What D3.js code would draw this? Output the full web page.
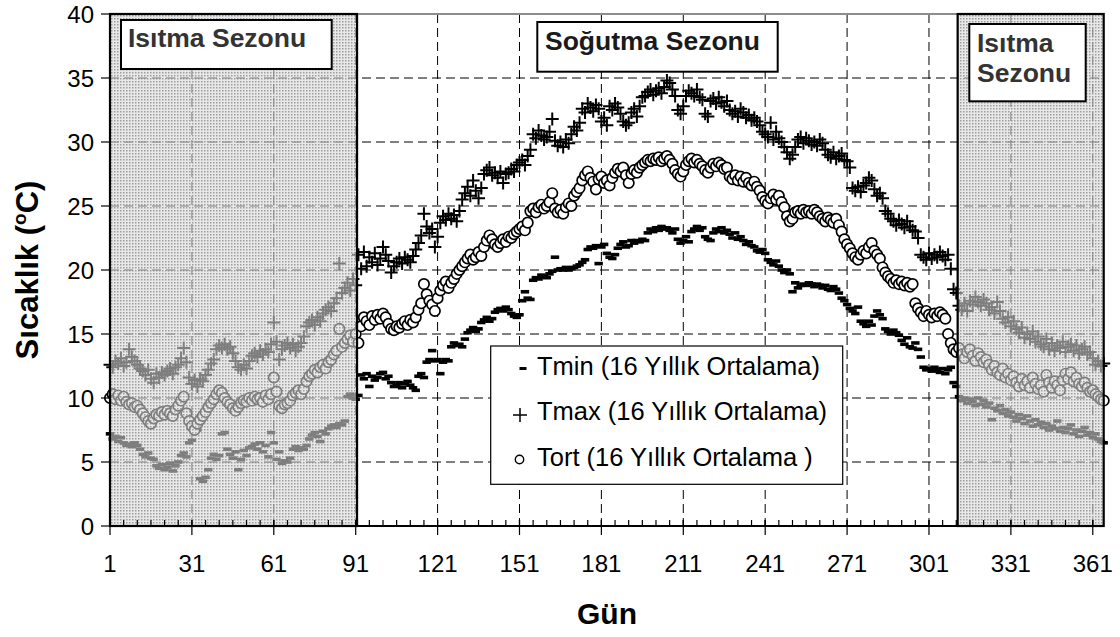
<!DOCTYPE html>
<html><head><meta charset="utf-8">
<script src="https://cdn.jsdelivr.net/npm/d3@7/dist/d3.min.js"></script>
<style>
html,body{margin:0;padding:0;background:#fff;}
svg{display:block;font-family:"Liberation Sans",Arial,sans-serif;}
</style></head>
<body>
<svg id="chart" width="1120" height="637"></svg>
<script>
// ---------------- DATA ----------------
const xTickLabels = [1, 31, 61, 91, 121, 151, 181, 211, 241, 271, 301, 331, 361];
const yTickLabels = [0, 5, 10, 15, 20, 25, 30, 35, 40];
const seasonHeat = [[1, 91.5], [311.5, 365]];
const seriesNames = ["Tmin (16 Yıllık Ortalama)", "Tmax (16 Yıllık Ortalama)", "Tort (16 Yıllık Ortalama )"];

const tmax = [
12.6,12.4,12.9,12.7,13.1,12.5,12.8,13.8,13.2,12.9,
12.6,12.3,12.1,11.8,12.2,11.5,11.2,11.9,11.6,12.0,
11.8,12.1,12.3,11.9,12.4,12.6,13.1,13.9,12.8,11.6,
11.1,11.4,10.9,11.5,11.3,11.8,12.2,12.7,13.0,13.8,
14.1,13.9,14.2,13.8,14.0,13.5,12.9,12.4,12.2,12.6,
12.3,12.9,13.3,13.5,13.2,13.7,13.4,13.8,13.6,14.2,
15.9,14.4,13.0,13.8,14.1,14.3,13.9,14.2,13.7,14.0,
14.3,14.8,15.6,15.9,16.1,15.7,16.3,16.0,16.6,16.9,
17.1,16.8,17.4,17.8,20.5,18.2,18.6,19.0,18.4,19.3,18.8,
21.2,20.1,21.4,20.3,21.0,20.6,21.3,20.4,20.9,
21.8,21.2,20.7,19.8,20.3,20.6,20.9,20.5,21.0,20.8,
20.6,21.1,21.6,22.1,22.7,24.4,23.4,22.9,23.2,21.8,
22.6,23.7,24.2,23.9,24.4,24.0,24.3,23.8,24.6,25.5,
26.0,26.5,25.8,27.0,26.2,25.6,26.4,27.5,27.8,28.0,
27.4,27.6,27.2,27.7,26.8,27.5,27.6,27.9,27.7,28.2,
28.4,28.6,28.2,28.9,29.4,30.6,30.3,30.9,30.5,30.2,
30.4,30.8,31.8,30.1,29.7,30.0,29.6,30.2,29.9,30.6,
31.2,30.9,31.5,32.6,32.3,33.0,32.7,32.4,32.9,32.6,
31.6,31.9,31.3,32.8,32.5,33.0,32.7,32.2,31.6,31.3,
31.5,32.3,32.6,32.0,32.8,33.5,33.6,33.9,34.1,33.7,
34.0,34.2,33.8,34.3,34.8,34.6,34.1,33.6,32.5,32.2,
32.8,33.6,34.0,33.8,33.6,34.1,33.5,33.3,32.2,32.0,
33.2,33.4,33.0,33.5,33.1,32.8,33.2,32.5,32.2,32.4,
32.0,32.6,32.3,31.9,32.1,31.7,31.9,31.6,31.3,30.8,
30.6,30.4,31.5,30.2,30.8,30.3,30.0,29.6,29.2,28.7,
29.0,29.6,30.2,30.4,29.9,30.3,30.1,29.8,30.0,29.7,
30.2,29.9,29.4,29.0,28.8,29.2,28.7,28.9,29.1,28.6,
28.5,28.0,26.4,26.2,26.5,26.1,26.6,26.8,27.2,27.0,
26.3,25.8,26.0,25.6,24.6,24.4,24.0,23.8,23.5,23.9,
23.6,23.3,23.8,23.4,23.1,23.0,22.5,21.2,21.0,20.8,
21.3,20.9,21.2,21.0,21.4,21.1,20.8,21.2,20.1,18.5,
18.2,17.2,16.9,17.4,16.8,17.6,17.3,17.9,17.5,17.2,
17.7,17.4,16.9,17.1,16.6,17.5,16.8,16.2,15.9,16.3,
15.6,16.0,15.4,15.1,15.5,14.7,15.0,14.6,15.2,14.4,
14.8,14.2,14.0,14.6,13.8,14.3,13.7,14.1,13.9,14.4,
13.6,14.0,14.2,13.7,14.1,13.5,13.8,14.0,13.4,13.6,
13.1,12.6,12.9,12.5,12.7
];

const tort = [
10.0,10.3,9.9,10.2,9.8,10.1,9.7,9.5,9.6,9.3,
9.4,9.1,8.8,8.5,8.2,8.0,8.4,8.7,8.6,8.9,
8.7,9.0,8.8,8.6,9.1,9.4,9.8,10.1,8.8,8.2,
7.8,7.5,8.0,8.3,8.6,8.9,9.3,9.6,9.9,10.3,
10.6,10.4,10.0,9.7,9.5,9.2,9.0,9.3,9.6,9.8,
9.7,10.0,9.8,10.1,9.9,10.0,9.7,10.2,9.9,10.3,
11.6,10.5,9.4,9.2,9.5,9.6,9.8,10.2,10.4,10.6,
10.3,10.7,11.3,11.7,11.9,12.2,12.0,12.4,12.6,12.3,
12.8,13.0,13.4,13.7,15.4,14.0,14.3,14.6,14.9,14.4,15.0,
14.3,15.6,16.3,16.0,15.7,16.4,16.1,16.5,16.2,
16.6,16.3,15.8,15.4,15.3,15.6,15.5,15.8,16.0,15.7,
16.1,15.9,16.3,16.9,17.4,18.9,18.1,17.6,17.3,16.8,
17.8,18.4,18.8,19.1,18.6,19.0,19.3,19.7,20.0,20.3,
20.6,20.9,21.2,20.8,21.0,21.4,21.1,21.8,22.3,22.7,
22.4,22.0,21.8,22.1,22.4,22.2,22.6,22.5,22.8,23.0,
23.2,23.4,23.1,23.7,24.6,24.8,24.5,24.9,25.1,24.8,
25.0,25.3,26.0,24.8,24.5,24.7,24.4,24.9,25.2,25.0,
25.8,26.1,26.4,27.0,27.4,27.7,27.2,26.9,26.3,27.1,
27.3,26.8,27.0,26.6,27.2,27.6,27.9,27.7,28.0,27.4,
26.8,27.5,27.8,27.6,28.0,28.2,28.4,28.6,28.5,28.7,
28.6,28.8,28.5,28.7,28.9,28.6,28.3,27.8,27.5,27.3,
27.7,28.2,28.5,28.7,28.4,28.6,28.3,28.1,27.8,27.6,
28.0,28.3,28.1,28.4,28.2,27.9,28.0,27.3,27.1,27.4,
27.0,27.3,26.9,27.2,26.8,26.6,26.9,26.5,26.2,25.7,
25.4,25.2,25.6,25.9,25.5,25.8,25.3,24.9,24.2,23.8,
24.0,24.5,24.6,24.4,24.7,24.5,24.6,24.4,24.7,24.5,
24.2,24.0,23.8,24.1,23.9,23.7,24.0,23.5,23.0,22.4,
22.0,21.7,21.3,21.0,20.8,21.2,21.5,21.3,21.8,22.1,
21.5,21.2,20.9,20.2,19.8,19.5,19.3,19.0,19.2,18.9,
19.1,18.8,19.0,18.7,18.9,17.4,17.0,16.7,16.4,16.8,
16.5,16.3,16.6,16.4,16.7,16.5,16.2,15.0,14.3,13.8,
13.6,13.9,13.4,13.1,13.6,13.8,13.3,12.9,13.5,13.2,
12.8,13.0,12.6,12.2,12.5,12.0,11.8,12.3,11.6,11.9,
11.4,11.7,11.2,10.9,11.5,11.0,11.3,10.8,11.6,11.1,
10.7,11.0,10.5,11.8,11.2,10.8,11.3,11.0,10.6,11.4,
11.9,11.5,12.0,11.3,11.6,11.1,10.9,11.2,10.8,10.5,
10.6,10.3,10.1,9.9,9.8
];

const tmin = [
7.2,6.8,7.0,6.6,6.9,6.5,6.3,6.4,6.2,6.5,
6.3,6.0,5.6,5.4,5.7,5.3,5.2,4.7,4.5,4.8,
4.4,4.6,4.9,4.3,4.7,5.0,5.5,5.7,5.4,6.5,
6.7,7.4,7.5,3.7,3.5,3.8,4.4,5.3,5.6,5.2,
5.5,7.2,7.3,6.0,5.6,5.3,5.8,4.4,5.2,5.9,
5.5,6.1,6.2,6.4,6.0,6.5,5.8,6.3,5.4,7.3,
6.5,5.2,5.8,4.9,5.1,5.0,5.3,6.0,6.2,5.9,
6.1,6.0,6.3,6.8,7.1,7.3,7.0,6.6,7.4,7.2,
7.6,7.8,7.9,7.7,8.0,7.9,8.2,10.1,10.3,10.0,9.9,
10.2,11.8,11.5,11.9,10.9,11.7,11.4,11.6,11.9,
12.0,11.5,11.7,11.2,10.9,11.0,11.2,10.8,11.1,11.3,
11.0,10.8,10.6,11.7,11.9,11.6,12.8,13.0,13.7,12.9,
13.0,11.9,12.8,13.0,12.9,14.0,14.3,14.1,14.2,14.0,
14.6,15.1,15.3,15.5,15.2,15.4,15.9,16.1,16.3,16.0,
16.2,16.7,16.9,17.0,16.8,17.1,16.9,16.6,16.4,16.3,
16.5,17.6,18.3,17.8,17.7,19.2,19.4,19.3,19.6,19.5,
19.4,19.7,19.9,21.0,20.0,20.1,20.0,20.2,20.0,20.1,
20.2,20.3,20.4,20.6,20.8,21.6,21.8,21.7,21.9,20.5,
21.8,22.0,21.3,21.0,20.9,21.2,21.7,22.0,22.2,21.8,
21.9,22.3,22.1,22.3,22.2,22.4,22.3,22.9,23.2,23.0,
23.3,23.1,23.4,23.2,23.3,23.1,22.9,23.2,22.4,22.1,
22.3,22.6,22.2,23.0,23.2,23.4,23.1,23.3,22.6,22.4,
22.3,22.9,23.2,23.0,23.3,22.9,23.1,22.8,22.5,22.9,
22.4,22.6,22.3,22.0,22.2,21.9,21.8,21.5,21.4,21.6,
21.3,20.8,20.6,20.4,20.7,20.3,20.0,19.8,20.0,19.7,
18.3,19.0,18.6,18.8,18.9,18.8,19.0,18.9,18.7,18.9,
18.8,18.6,18.8,18.5,18.4,18.7,18.5,18.2,17.8,17.6,
17.3,17.0,16.8,16.6,17.1,16.0,15.8,15.6,16.0,15.7,
16.4,16.8,16.5,16.2,15.4,15.2,15.0,15.3,15.1,14.9,
14.5,14.2,14.7,14.0,13.9,14.3,13.8,13.2,12.4,12.2,
12.3,12.1,12.4,12.2,12.0,12.3,11.9,12.2,12.4,11.2,
10.9,10.1,9.8,10.0,9.6,9.9,9.7,9.4,10.0,9.5,
9.8,9.3,9.6,8.3,9.2,9.0,9.4,8.8,9.1,8.6,
8.9,8.5,8.2,8.7,8.4,8.0,8.6,8.2,7.8,8.3,
7.9,8.1,7.7,8.0,7.5,7.8,7.6,8.2,7.4,7.7,
7.3,7.6,7.9,7.2,7.5,7.0,7.4,7.7,7.1,7.3,
6.9,7.2,6.8,6.6,6.5
];

[tmin, tmax, tort].forEach((a, i) => {
  if (a.length !== 365) throw new Error("series " + i + " length " + a.length);
});
const days = d3.range(1, 366);

// ---------------- LAYOUT ----------------
const svg = d3.select("#chart");
const pL = 110, pR = 1103.7, pT = 14, pB = 526;
const x = d3.scaleLinear().domain([1, 365]).range([pL, pR]);
const y = d3.scaleLinear().domain([0, 40]).range([pB, pT]);

svg.append("rect").attr("width", 1120).attr("height", 637).attr("fill", "#fff");

const defs = svg.append("defs");
const pat = defs.append("pattern").attr("id", "dots")
  .attr("width", 3).attr("height", 3).attr("patternUnits", "userSpaceOnUse");
pat.append("rect").attr("width", 3).attr("height", 3).attr("fill", "#d8d8d8").attr("fill-opacity", 0.58);
pat.append("rect").attr("x", 0).attr("y", 0).attr("width", 1.5).attr("height", 1.5).attr("fill", "#858585").attr("fill-opacity", 0.75);

// grid
const gridX = xTickLabels.filter(d => d !== 1);
svg.append("g").selectAll("line").data(gridX).join("line")
  .attr("x1", d => x(d)).attr("x2", d => x(d)).attr("y1", pT).attr("y2", pB)
  .attr("stroke", "#000").attr("stroke-width", 1).attr("stroke-dasharray", "9,5");
svg.append("g").selectAll("line").data(yTickLabels.filter(d => d > 0 && d < 40)).join("line")
  .attr("x1", pL).attr("x2", pR).attr("y1", d => y(d)).attr("y2", d => y(d))
  .attr("stroke", "#000").attr("stroke-width", 1).attr("stroke-dasharray", "9,5");

// top border
svg.append("line").attr("x1", pL).attr("x2", pR).attr("y1", pT).attr("y2", pT)
  .attr("stroke", "#8c8c8c").attr("stroke-width", 2);

// data: Tmin dashes
svg.append("g").selectAll("rect").data(days).join("rect")
  .attr("x", d => x(d) - 4.2).attr("y", (d, i) => y(tmin[i]) - 1.8)
  .attr("width", 8.4).attr("height", 3.6).attr("fill", "#000");
// Tmax plus
const pl = 6.5;
svg.append("g").selectAll("path").data(days).join("path")
  .attr("d", (d, i) => {
    const cx = x(d), cy = y(tmax[i]);
    return `M${cx - pl},${cy}H${cx + pl}M${cx},${cy - pl}V${cy + pl}`;
  })
  .attr("stroke", "#000").attr("stroke-width", 2).attr("fill", "none");
// Tort circles
svg.append("g").selectAll("circle").data(days).join("circle")
  .attr("cx", d => x(d)).attr("cy", (d, i) => y(tort[i])).attr("r", 5.2)
  .attr("fill", "#fff").attr("stroke", "#000").attr("stroke-width", 1.7);

// heating season shading (on top of data)
svg.append("g").selectAll("rect").data(seasonHeat).join("rect")
  .attr("x", d => x(d[0])).attr("y", pT)
  .attr("width", d => x(d[1]) - x(d[0])).attr("height", pB - pT)
  .attr("fill", "url(#dots)").attr("stroke", "#000").attr("stroke-width", 2.2);

// axes
const xAxisG = svg.append("g");
xAxisG.append("line").attr("x1", pL).attr("x2", pR).attr("y1", pB).attr("y2", pB)
  .attr("stroke", "#000").attr("stroke-width", 2);
const minorTicks = d3.range(1, 366, 5);
xAxisG.selectAll("line.minor").data(minorTicks).join("line").attr("class", "minor")
  .attr("x1", d => x(d)).attr("x2", d => x(d)).attr("y1", pB - 6).attr("y2", pB)
  .attr("stroke", "#000").attr("stroke-width", 1.2);
xAxisG.selectAll("line.major").data(xTickLabels).join("line").attr("class", "major")
  .attr("x1", d => x(d)).attr("x2", d => x(d)).attr("y1", pB - 6).attr("y2", pB + 9)
  .attr("stroke", "#000").attr("stroke-width", 1.2);
xAxisG.selectAll("text").data(xTickLabels).join("text")
  .attr("x", d => x(d)).attr("y", 572).attr("text-anchor", "middle")
  .attr("font-size", 24).attr("fill", "#000").text(d => d);

const yAxisG = svg.append("g");
yAxisG.append("line").attr("x1", pL).attr("x2", pL).attr("y1", pT).attr("y2", pB)
  .attr("stroke", "#000").attr("stroke-width", 2);
yAxisG.selectAll("line.t").data(yTickLabels).join("line").attr("class", "t")
  .attr("x1", pL - 9).attr("x2", pL).attr("y1", d => y(d)).attr("y2", d => y(d))
  .attr("stroke", "#000").attr("stroke-width", 1.2);
yAxisG.selectAll("text").data(yTickLabels).join("text")
  .attr("x", 94).attr("y", d => y(d) + 8.5).attr("text-anchor", "end")
  .attr("font-size", 24).attr("fill", "#000").text(d => d);

// axis titles
svg.append("text").attr("x", 607).attr("y", 624).attr("text-anchor", "middle")
  .attr("font-size", 30).attr("font-weight", "bold").text("Gün");
const yt = svg.append("text").attr("transform", "translate(38,270) rotate(-90)")
  .attr("text-anchor", "middle").attr("font-size", 31).attr("font-weight", "bold");
yt.append("tspan").text("Sıcaklık (");
yt.append("tspan").attr("font-size", 19).attr("dy", -12).text("o");
yt.append("tspan").attr("dy", 12).text("C)");

// season annotation boxes
function box(x0, y0, x1, y1) {
  svg.append("rect").attr("x", x0).attr("y", y0).attr("width", x1 - x0).attr("height", y1 - y0)
    .attr("fill", "#fff").attr("stroke", "#000").attr("stroke-width", 2);
}
box(121, 20, 331.7, 69);
svg.append("text").attr("x", 128).attr("y", 47).attr("font-size", 26.5).attr("font-weight", "bold")
  .attr("fill", "#333").text("Isıtma Sezonu");
box(537.3, 22, 777.7, 71.7);
svg.append("text").attr("x", 545).attr("y", 49.5).attr("font-size", 26.5).attr("font-weight", "bold")
  .attr("fill", "#1a1a1a").text("Soğutma Sezonu");
box(969.3, 24, 1085.7, 101.3);
svg.append("text").attr("x", 977).attr("y", 51.7).attr("font-size", 26.5).attr("font-weight", "bold")
  .attr("fill", "#333").text("Isıtma");
svg.append("text").attr("x", 977).attr("y", 81.7).attr("font-size", 26.5).attr("font-weight", "bold")
  .attr("fill", "#333").text("Sezonu");

// legend
const lg = svg.append("g");
lg.append("rect").attr("x", 490.7).attr("y", 346).attr("width", 352).attr("height", 138.3)
  .attr("fill", "#fff").attr("stroke", "#000").attr("stroke-width", 1.2);
const legY = [375, 420, 466];
lg.append("rect").attr("x", 519.5).attr("y", legY[0] - 8).attr("width", 7).attr("height", 3).attr("fill", "#000");
lg.append("path").attr("d", `M513,${legY[1] - 5}H527M520,${legY[1] - 12}V${legY[1] + 2}`)
  .attr("stroke", "#000").attr("stroke-width", 1.5);
lg.append("circle").attr("cx", 519.5).attr("cy", legY[2] - 6.5).attr("r", 4.2)
  .attr("fill", "#fff").attr("stroke", "#000").attr("stroke-width", 1.4);
lg.selectAll("text").data(seriesNames).join("text")
  .attr("x", 537).attr("y", (d, i) => legY[i]).attr("font-size", 25.5).attr("fill", "#000").text(d => d);
</script>
</body></html>
